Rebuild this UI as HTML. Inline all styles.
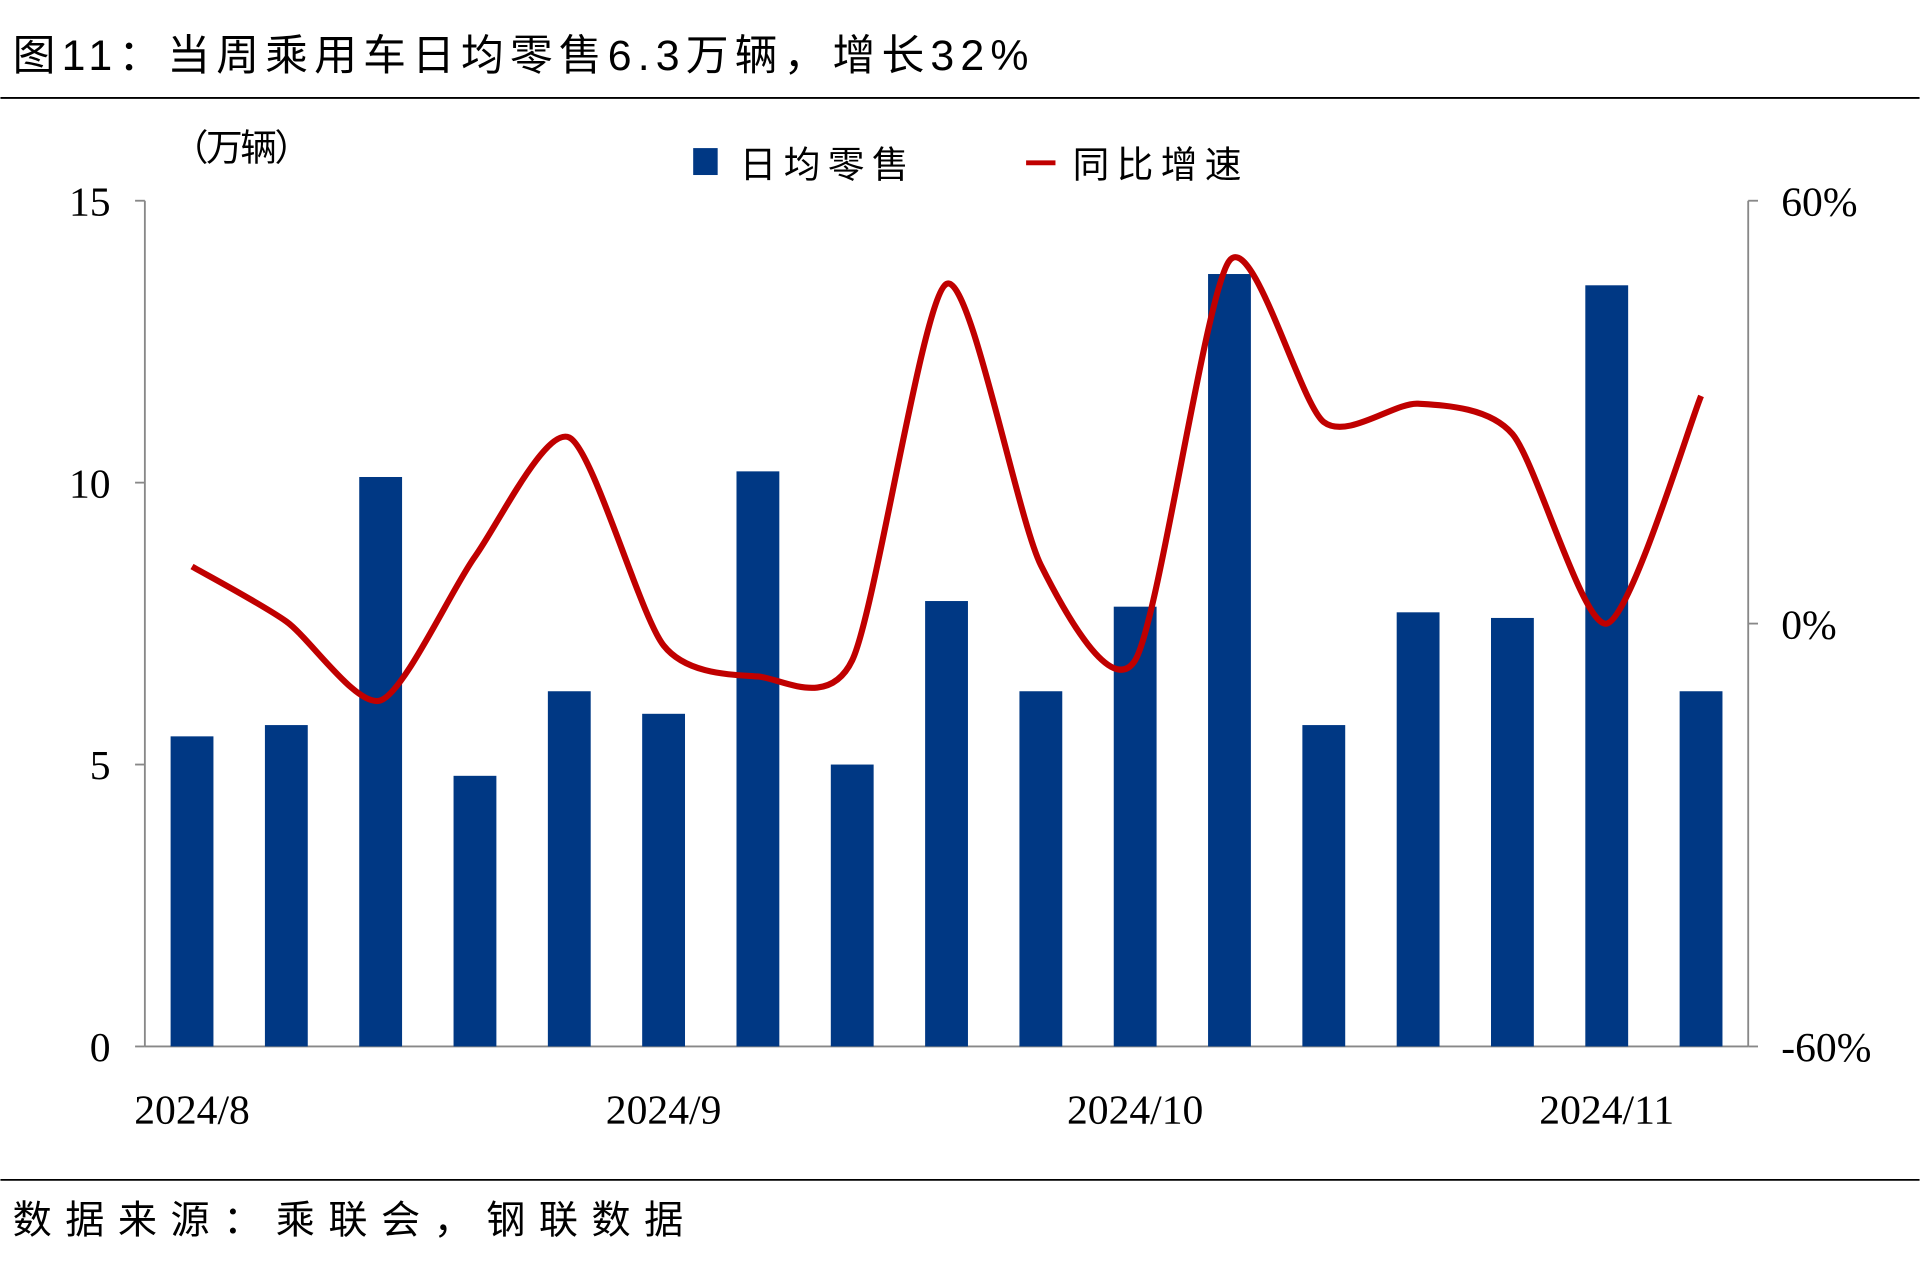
<!DOCTYPE html>
<html><head><meta charset="utf-8"><style>
html,body{margin:0;padding:0;background:#fff;}
svg{display:block}
text{font-family:"Liberation Serif","Noto Serif CJK SC",serif;}
.cjk{font-family:"Liberation Sans","Noto Sans CJK SC",sans-serif;}
</style></head><body>
<svg id="chart" width="1920" height="1279" viewBox="0 0 1568 1045" xmlns="http://www.w3.org/2000/svg">
<text class="cjk" x="10" y="57" font-size="35" letter-spacing="5" fill="#000">图11：当周乘用车日均零售6.3万辆，增长32%</text>
<line x1="0" y1="80" x2="1568" y2="80" stroke="#000" stroke-width="1.5"/>
<text class="cjk" x="140" y="131" font-size="30" letter-spacing="-2" fill="#000">（万辆）</text>
<rect x="566" y="121" width="20" height="22" fill="#003884"/>
<text class="cjk" x="604" y="145" font-size="30" letter-spacing="6" fill="#000">日均零售</text>
<line x1="838" y1="133" x2="862" y2="133" stroke="#c00000" stroke-width="4"/>
<text class="cjk" x="876" y="145" font-size="30" letter-spacing="6" fill="#000">同比增速</text>
<g id="axes"></g>
<g id="bars"></g>
<g id="line"></g>
<line x1="0" y1="964" x2="1568" y2="964" stroke="#000" stroke-width="1.5"/>
<text class="cjk" x="10" y="1008" font-size="32" letter-spacing="11" fill="#000">数据来源：乘联会，钢联数据</text>
</svg>
<script>
const categories=["w1","w2","w3","w4","w5","w6","w7","w8","w9","w10","w11","w12","w13","w14","w15","w16","w17"];
const dailyRetail=[5.5,5.7,10.1,4.8,6.3,5.9,10.2,5.0,7.9,6.3,7.8,13.7,5.7,7.7,7.6,13.5,6.3];
const yoyGrowth=[8.1,0.3,-10.9,9.5,26.4,-3.1,-7.5,-5.2,48.2,8.3,-5.2,51.5,28.6,31.2,26.9,0,32.3];
const leftTicks=[0,5,10,15];
const rightTicks=[-60,0,60];
const xLabels=[{i:0,t:"2024/8"},{i:5,t:"2024/9"},{i:10,t:"2024/10"},{i:15,t:"2024/11"}];
const NS="http://www.w3.org/2000/svg";
const X0=118,X1=1428,YT=164,YB=855;
const step=(X1-X0)/categories.length;
const xc=i=>X0+step*(i+0.5);
const yL=v=>YB-(v/15)*(YB-YT);
const yR=v=>YB-((v+60)/120)*(YB-YT);
function mk(tag,attrs,parent){const e=document.createElementNS(NS,tag);for(const k in attrs)e.setAttribute(k,attrs[k]);parent.appendChild(e);return e;}
const ax=document.getElementById('axes'),bg=document.getElementById('bars'),lg=document.getElementById('line');
let e=mk('line',{x1:X0,y1:YT,x2:X0,y2:YB,stroke:'#888','stroke-width':1.5},ax);


e=mk('line',{x1:X1,y1:YT,x2:X1,y2:YB,stroke:'#888','stroke-width':1.5},ax);


e=mk('line',{x1:X0,y1:YB,x2:X1,y2:YB,stroke:'#888','stroke-width':1.5},ax);


leftTicks.forEach(v=>{
 let t=mk('line',{x1:X0-8,y1:yL(v),x2:X0,y2:yL(v),stroke:'#888','stroke-width':1.5},ax);
 
 
 let l=mk('text',{x:90,y:yL(v)+12,'font-size':34,'text-anchor':'end',fill:'#000'},ax);l.textContent=v;
 
 
});
rightTicks.forEach(v=>{
 let t=mk('line',{x1:X1,y1:yR(v),x2:X1+8,y2:yR(v),stroke:'#888','stroke-width':1.5},ax);
 
 
 let l=mk('text',{x:1455,y:yR(v)+12,'font-size':34,fill:'#000'},ax);l.textContent=v+"%";
 
 
});
xLabels.forEach(o=>{
 let l=mk('text',{x:xc(o.i),y:918,'font-size':34,'text-anchor':'middle',fill:'#000'},ax);l.textContent=o.t;
 
 
});
dailyRetail.forEach((v,i)=>{
 let r=mk('rect',{x:xc(i)-17.5,y:yL(v),width:35,height:YB-yL(v),fill:'#003884'},bg);
 
 
});
const pts=yoyGrowth.map((v,i)=>[xc(i),yR(v)]);
let d="M"+pts[0][0]+","+pts[0][1];
const k=8;
for(let i=0;i<pts.length-1;i++){
 const p0=pts[Math.max(0,i-1)],p1=pts[i],p2=pts[i+1],p3=pts[Math.min(pts.length-1,i+2)];
 const c1=[p1[0]+(p2[0]-p0[0])/k,p1[1]+(p2[1]-p0[1])/k];
 const c2=[p2[0]-(p3[0]-p1[0])/k,p2[1]-(p3[1]-p1[1])/k];
 d+=` C${c1[0]},${c1[1]} ${c2[0]},${c2[1]} ${p2[0]},${p2[1]}`;
}
let p=mk('path',{d:d,fill:'none',stroke:'#c00000','stroke-width':5,'stroke-linejoin':'round'},lg);


</script>
</body></html>
